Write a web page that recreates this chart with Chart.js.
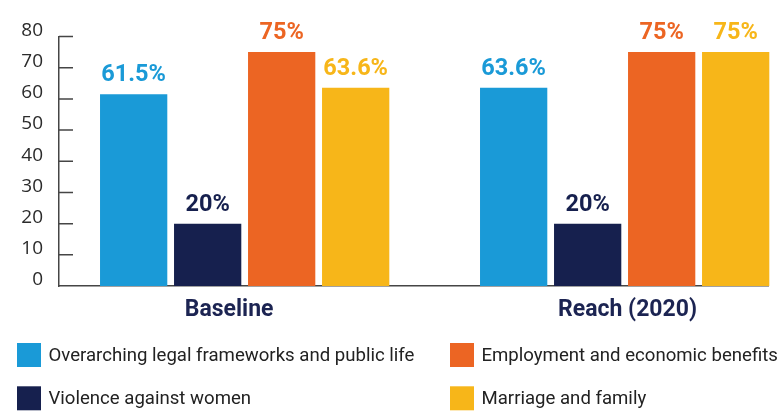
<!DOCTYPE html>
<html>
<head>
<meta charset="utf-8">
<script src="https://cdn.jsdelivr.net/npm/chart.js@4.4.1/dist/chart.umd.min.js"></script>
<style>
  html, body { margin: 0; padding: 0; background: #ffffff; }
  #wrap { width: 782px; height: 411px; }
</style>
</head>
<body>
<div id="wrap"><canvas id="c" width="782" height="411"></canvas></div>
<script>
// ---- data ----
const categories = ['Baseline', 'Reach (2020)'];
const seriesNames = [
  'Overarching legal frameworks and public life',
  'Violence against women',
  'Employment and economic benefits',
  'Marriage and family'
];
const legalFrameworks = [61.5, 63.6];
const violenceAgainstWomen = [20, 20];
const employmentBenefits = [75, 75];
const marriageFamily = [63.6, 75];
const yTicks = [0, 10, 20, 30, 40, 50, 60, 70, 80];

// ---- styles ----
const colors = ['#1a9ad7', '#16204e', '#ec6523', '#f7b619'];
const seriesValues = [legalFrameworks, violenceAgainstWomen, employmentBenefits, marriageFamily];
const labelNudge = [-0.041, 0.0075]; // small horizontal shift of category labels
const axisColor = '#454545';

const datasets = seriesValues.map((vals, s) => ({
  label: seriesNames[s],
  data: vals.map((v, i) => ({ x: i, y: v })),
  backgroundColor: colors[s],
  borderWidth: 0,
  clip: false,
  categoryPercentage: 0.779,
  barPercentage: 0.909
}));

const valueLabels = {
  id: 'valueLabels',
  afterDatasetsDraw(chart) {
    const ctx = chart.ctx;
    ctx.save();
    ctx.font = 'bold 23.5px Roboto';
    ctx.textAlign = 'center';
    ctx.textBaseline = 'alphabetic';
    chart.data.datasets.forEach((ds, di) => {
      const meta = chart.getDatasetMeta(di);
      ctx.fillStyle = colors[di];
      meta.data.forEach((bar, i) => {
        ctx.fillText(seriesValues[di][i] + '%', bar.x, bar.y - 13);
      });
    });
    ctx.restore();
  }
};

const yTickMarks = {
  id: 'yTickMarks',
  afterDraw(chart) {
    const ctx = chart.ctx;
    const y = chart.scales.y;
    const left = chart.chartArea.left;
    ctx.save();
    ctx.strokeStyle = axisColor;
    ctx.lineWidth = 1.5;
    ctx.beginPath();
    yTicks.forEach(v => {
      if (v === 0) return;
      const py = y.getPixelForValue(v);
      ctx.moveTo(left, py);
      ctx.lineTo(left + 14, py);
    });
    ctx.stroke();
    ctx.restore();
  }
};

const customLegend = {
  id: 'customLegend',
  afterDraw(chart) {
    const ctx = chart.ctx;
    const colX = [17, 450];
    const rowY = [343, 386.3];
    const box = 24;
    ctx.save();
    ctx.font = '18.6px Roboto';
    ctx.textAlign = 'left';
    ctx.textBaseline = 'alphabetic';
    const order = [[0, 0], [0, 1], [1, 0], [1, 1]]; // [col,row] per series
    chart.data.datasets.forEach((ds, di) => {
      const [c, r] = order[di];
      const x = colX[c], y = rowY[r];
      ctx.fillStyle = colors[di];
      ctx.fillRect(x, y, box, box);
      ctx.fillStyle = '#222222';
      ctx.fillText(ds.label, x + box + 7.5, y + 18);
    });
    ctx.restore();
  }
};

new Chart(document.getElementById('c'), {
  type: 'bar',
  data: { datasets },
  options: {
    responsive: false,
    animation: false,
    devicePixelRatio: 1,
    layout: { padding: { top: 36.5, right: 14, bottom: 75, left: 0 } },
    plugins: {
      legend: { display: false },
      tooltip: { enabled: false },
      title: { display: false }
    },
    scales: {
      x: {
        type: 'linear',
        bounds: 'data',
        offset: false,
        min: -0.4886,
        max: 1.3772,
        grid: { display: false, drawTicks: false, offset: false },
        border: { display: true, color: axisColor, width: 1.5 },
        afterBuildTicks(scale) {
          scale.ticks = categories.map((c, i) => ({ value: i + labelNudge[i] }));
        },
        afterFit(scale) { scale.height = 50; },
        ticks: {
          autoSkip: false,
          maxRotation: 0,
          padding: 10,
          color: '#1c2452',
          font: { family: 'Roboto', size: 23, weight: 'bold' },
          callback: (v, i) => categories[i]
        }
      },
      y: {
        type: 'linear',
        min: 0,
        max: 80,
        grid: { display: false, drawTicks: false },
        border: { display: true, color: axisColor, width: 1.5 },
        afterBuildTicks(scale) {
          scale.ticks = yTicks.map(v => ({ value: v }));
        },
        afterFit(scale) { scale.width = 59; },
        ticks: {
          padding: 16,
          labelOffset: -6,
          color: '#2b2b2b',
          font: { family: 'Open Sans', size: 19 }
        }
      }
    }
  },
  plugins: [valueLabels, yTickMarks, customLegend]
});
</script>
</body>
</html>
